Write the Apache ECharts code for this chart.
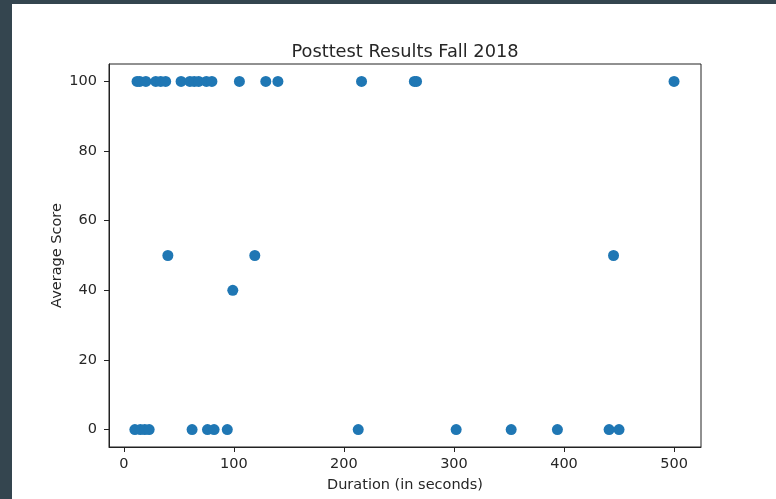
<!DOCTYPE html>
<html>
<head>
<meta charset="utf-8">
<script src="https://cdn.jsdelivr.net/npm/echarts@6/dist/echarts.min.js"></script>
<style>
  html, body { margin: 0; padding: 0; width: 776px; height: 499px; background: #34454f; overflow: hidden; }
  #chart { position: absolute; left: 12px; top: 4px; width: 764px; height: 495px; background: #ffffff; }
</style>
</head>
<body>
<div id="chart"></div>
<script>
// Duration (seconds) and average score for each student
const durationTop = [12, 14.5, 20, 29, 33.5, 38, 52, 60, 64, 68, 75, 80, 105, 129, 140, 216, 264, 266, 500];
const scoreTop = [100, 100, 100, 100, 100, 100, 100, 100, 100, 100, 100, 100, 100, 100, 100, 100, 100, 100, 100];
const durationMid = [40, 99, 119, 445];
const scoreMid = [50, 40, 50, 50];
const durationBottom = [10, 15, 19, 23, 62, 76, 82, 94, 213, 302, 352, 394, 441, 450];
const scoreBottom = [0, 0, 0, 0, 0, 0, 0, 0, 0, 0, 0, 0, 0, 0];
const xTicks = [0, 100, 200, 300, 400, 500];
const yTicks = [0, 20, 40, 60, 80, 100];

const points = [];
[[durationTop, scoreTop], [durationMid, scoreMid], [durationBottom, scoreBottom]].forEach(([xs, ys]) => {
  xs.forEach((x, i) => points.push([x, ys[i]]));
});

const font = 'DejaVu Sans';
const textColor = '#262626';
const chart = echarts.init(document.getElementById('chart'), null, { renderer: 'canvas' });
chart.setOption({
  animation: false,
  title: {
    text: 'Posttest Results Fall 2018',
    left: 388, top: 34, textAlign: 'center',
    textStyle: { fontFamily: font, fontSize: 17.8, fontWeight: 'normal', color: textColor }
  },
  grid: { left: 97, top: 60, width: 592, height: 383, show: true, borderColor: '#222', borderWidth: 1, backgroundColor: 'transparent' },
  xAxis: {
    type: 'value', min: -13.5, max: 524.5,
    name: 'Duration (in seconds)', nameLocation: 'middle', nameGap: 31,
    nameTextStyle: { fontFamily: font, fontSize: 14.5, color: textColor },
    axisLine: { show: true, onZero: false, lineStyle: { color: '#222', width: 1 } },
    axisTick: { show: true, length: 5, lineStyle: { color: '#222' }, customValues: xTicks },
    axisLabel: { fontFamily: font, fontSize: 14.5, color: textColor, margin: 10, customValues: xTicks },
    splitLine: { show: false }
  },
  yAxis: {
    type: 'value', min: -5, max: 105,
    name: 'Average Score', nameLocation: 'middle', nameGap: 44, nameRotate: 90,
    nameMoveOverlap: false,
    nameTextStyle: { fontFamily: font, fontSize: 14.5, color: textColor },
    axisLine: { show: true, onZero: false, lineStyle: { color: '#222', width: 1 } },
    axisTick: { show: true, length: 5, lineStyle: { color: '#222' }, customValues: yTicks },
    axisLabel: { fontFamily: font, fontSize: 14.5, color: textColor, margin: 12, customValues: yTicks },
    splitLine: { show: false }
  },
  series: [{
    type: 'scatter',
    data: points,
    symbolSize: 11,
    itemStyle: { color: '#1f77b4', opacity: 1 }
  }]
});
</script>
</body>
</html>
